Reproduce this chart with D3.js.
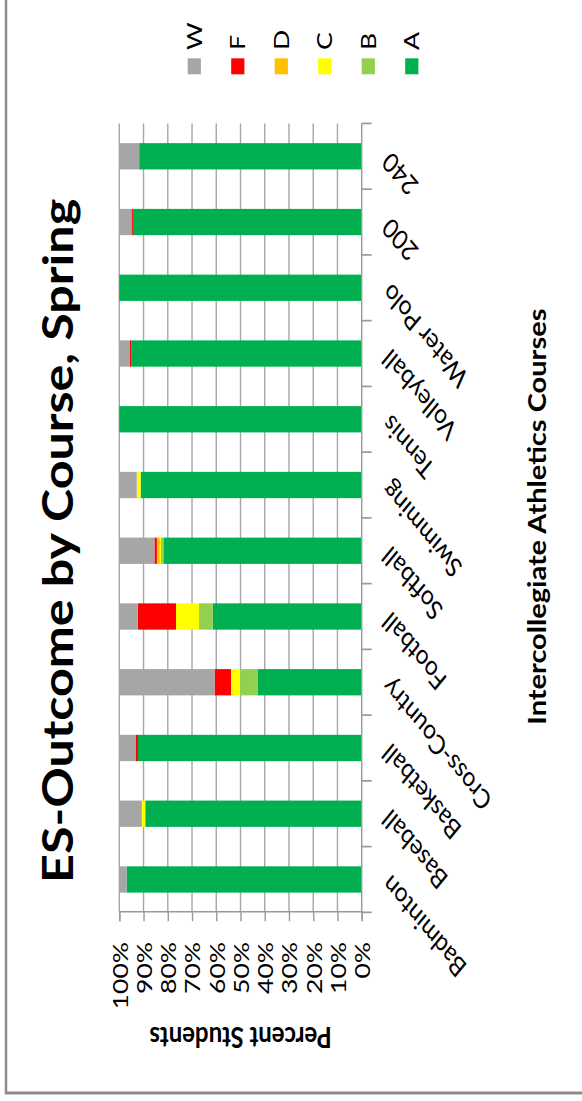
<!DOCTYPE html>
<html>
<head>
<meta charset="utf-8">
<script src="https://cdn.jsdelivr.net/npm/d3@7"></script>
<style>
  html, body { margin: 0; padding: 0; background: #fff; }
  svg { display: block; }
  text { font-family: Lato, "Open Sans", sans-serif; fill: #000; }
</style>
</head>
<body>
<svg id="chart" width="582" height="1101"></svg>
<script>
// Grade outcomes per intercollegiate athletics course (percent of students)
const categories = ["Badminton", "Baseball", "Basketball", "Cross-Country", "Football",
  "Softball", "Swimming", "Tennis", "Volleyball", "Water Polo", "200", "240"];
const gradeA = [97.0, 89.3, 92.3, 43.0, 61.4, 81.8, 91.2, 100, 95.1, 100, 94.4, 91.8];
const gradeB = [0, 0, 0, 7.2, 5.7, 1.0, 0, 0, 0, 0, 0, 0];
const gradeC = [0, 1.4, 0, 3.7, 9.5, 0.5, 1.6, 0, 0, 0, 0, 0];
const gradeD = [0, 0, 0, 0, 0, 1.2, 0, 0, 0, 0, 0, 0];
const gradeF = [0, 0, 1.0, 6.8, 15.8, 1.0, 0, 0, 0.5, 0, 0.6, 0];
const gradeW = [3.0, 9.3, 6.7, 39.3, 7.6, 14.5, 7.2, 0, 4.4, 0, 5.0, 8.2];
const seriesKeys = ["A", "B", "C", "D", "F", "W"];
const seriesColors = ["#00B050", "#92D050", "#FFFF00", "#FFC000", "#FF0000", "#A6A6A6"];
const percentTicks = [0, 10, 20, 30, 40, 50, 60, 70, 80, 90, 100];
const legendOrder = ["W", "F", "D", "C", "B", "A"];

const chartTitle = "ES-Outcome by Course, Spring";
const xTitle = "Intercollegiate Athletics Courses";
const yTitle = "Percent Students";

const table = categories.map((c, i) => ({
  course: c, A: gradeA[i], B: gradeB[i], C: gradeC[i], D: gradeD[i], F: gradeF[i], W: gradeW[i]
}));

// The chart is laid out landscape, then turned a quarter turn onto the portrait page
const innerW = 910, stretch = 1.21;
const svg = d3.select("#chart");
svg.append("rect").attr("width", 582).attr("height", 1101).attr("fill", "#fff");
const g = svg.append("g")
  .attr("transform", `scale(1,${stretch}) translate(0,${innerW}) rotate(-90)`);

// chart frame
g.append("rect").attr("x", 6.7).attr("y", 6).attr("width", 1400).attr("height", 1400)
  .attr("fill", "none").attr("stroke", "#8c8c8c").attr("stroke-width", 2.5);

const plot = { left: 156, right: 808, top: 119.3, bottom: 361.7 };

const x = d3.scaleBand().domain(categories).range([plot.left, plot.right])
  .paddingInner(0.6).paddingOuter(0.3);
const y = d3.scaleLinear().domain([0, 100]).range([plot.bottom, plot.top]);
const color = d3.scaleOrdinal().domain(seriesKeys).range(seriesColors);

// horizontal gridlines
g.append("g").selectAll("line").data(percentTicks.filter(t => t > 0)).join("line")
  .attr("x1", plot.left).attr("x2", plot.right)
  .attr("y1", d => y(d)).attr("y2", d => y(d))
  .attr("stroke", "#a6a6a6").attr("stroke-width", 1.4);

// stacked bars
const stacked = d3.stack().keys(seriesKeys)(table);
g.append("g").selectAll("g").data(stacked).join("g")
  .attr("fill", d => color(d.key))
  .selectAll("rect").data(d => d).join("rect")
  .attr("x", d => x(d.data.course))
  .attr("width", x.bandwidth())
  .attr("y", d => y(d[1]))
  .attr("height", d => y(d[0]) - y(d[1]));

// value axis
const yAxis = g.append("g").attr("transform", `translate(${plot.left},0)`)
  .call(d3.axisLeft(y).tickValues(percentTicks).tickFormat(d => d + "%")
    .tickSize(7.4).tickPadding(17));
yAxis.select(".domain").attr("stroke", "#999").attr("stroke-width", 1.4);
yAxis.selectAll(".tick line").attr("stroke", "#999").attr("stroke-width", 1.4);
yAxis.selectAll(".tick text").attr("font-size", 22).attr("font-family", "Lato")
  .attr("dy", "0.36em");

// category axis with ticks on band boundaries
const catAxis = g.append("g");
catAxis.append("line").attr("x1", plot.left).attr("x2", plot.right)
  .attr("y1", plot.bottom).attr("y2", plot.bottom)
  .attr("stroke", "#999").attr("stroke-width", 1.4);
const bounds = categories.map(c => x(c) + x.bandwidth() / 2 - x.step() / 2)
  .concat([x(categories[categories.length - 1]) + x.bandwidth() / 2 + x.step() / 2]);
catAxis.selectAll("line.tk").data(bounds).join("line").attr("class", "tk")
  .attr("x1", d => d).attr("x2", d => d)
  .attr("y1", plot.bottom).attr("y2", plot.bottom + 10)
  .attr("stroke", "#999").attr("stroke-width", 1.4);
catAxis.selectAll("text").data(categories).join("text")
  .attr("transform", d => `translate(${x(d) + x.bandwidth() / 2 + 5},${plot.bottom + 30}) rotate(-45)`)
  .attr("text-anchor", "end")
  .attr("font-size", 22.5)
  .text(d => d);

// titles
g.append("text").attr("x", 463).attr("y", 73.3).attr("text-anchor", "middle")
  .attr("font-size", 41.5).attr("font-weight", "bold").text(chartTitle);
g.append("text").attr("x", 483).attr("y", 546.5).attr("text-anchor", "middle")
  .attr("font-size", 24).attr("font-weight", "bold").text(xTitle);
g.append("text").attr("transform", "translate(61.5,240.5) rotate(-90)")
  .attr("text-anchor", "middle")
  .attr("font-size", 24).attr("font-weight", "bold").text(yTitle);

// legend
const legend = g.append("g").selectAll("g").data(legendOrder).join("g")
  .attr("transform", (d, i) => `translate(848.6,${194.3 + i * 43.5})`);
legend.append("rect").attr("x", 0).attr("y", -6.6).attr("width", 13.2).attr("height", 13.2)
  .attr("fill", d => color(d));
legend.append("text").attr("x", 20).attr("y", 7.5).attr("font-size", 22).text(d => d);
</script>
</body>
</html>
